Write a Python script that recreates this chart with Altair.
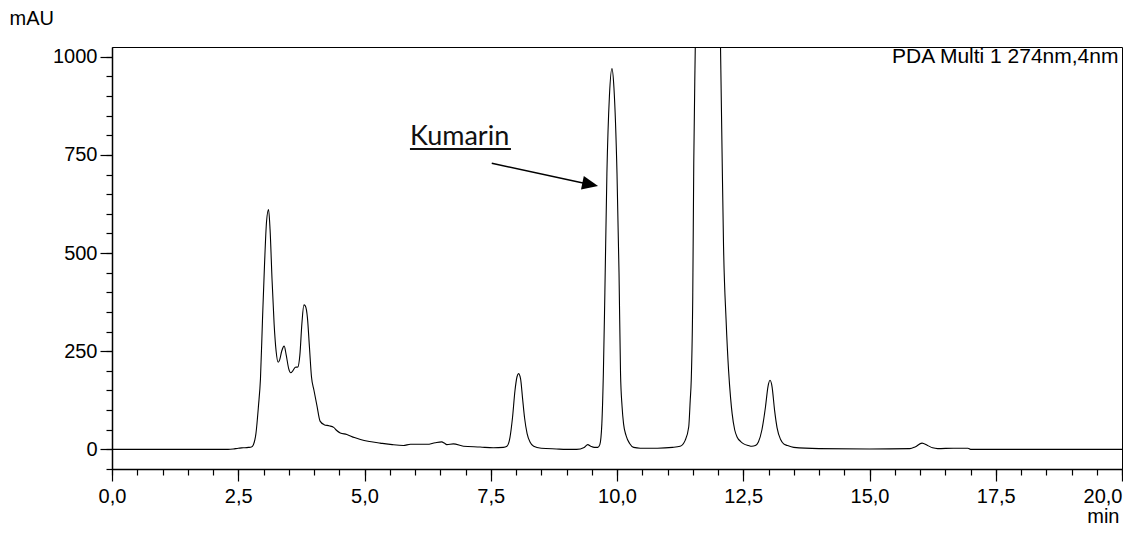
import altair as alt
import pandas as pd

# Chromatogram trace (retention time in min, absorbance in mAU)
time_min = [0.0, 2.3, 2.4, 2.5, 2.6, 2.7, 2.76, 2.80, 2.85, 2.90, 2.94, 2.98, 3.02, 3.06, 3.10,
            3.13, 3.17, 3.21, 3.25, 3.29, 3.32, 3.36, 3.41, 3.45, 3.50, 3.54, 3.58, 3.63, 3.68,
            3.72, 3.76, 3.80, 3.83, 3.87, 3.91, 3.95, 4.00, 4.06, 4.12, 4.20, 4.30, 4.39, 4.45,
            4.52, 4.65, 4.80, 4.92, 5.10, 5.31, 5.55, 5.77, 5.91, 6.10, 6.24, 6.40, 6.53, 6.58,
            6.63, 6.76, 6.96, 7.29, 7.55, 7.75, 7.82, 7.88, 7.93, 7.98, 8.02, 8.05, 8.09, 8.13,
            8.17, 8.22, 8.28, 8.35, 8.50, 8.80, 9.00, 9.20, 9.35, 9.42, 9.48, 9.55, 9.62, 9.66,
            9.70, 9.73, 9.76, 9.80, 9.85, 9.90, 9.94, 10.00, 10.04, 10.07, 10.10, 10.13, 10.18,
            10.25, 10.33, 10.46, 10.80, 11.10, 11.25, 11.35, 11.42, 11.45, 11.47, 11.50, 11.52,
            11.55, 11.60, 11.80, 12.00, 12.05, 12.08, 12.11, 12.16, 12.21, 12.25, 12.28, 12.33,
            12.38, 12.45, 12.51, 12.60, 12.67, 12.74, 12.80, 12.87, 12.94, 12.99, 13.03, 13.07,
            13.12, 13.17, 13.24, 13.30, 13.37, 13.50, 14.00, 15.00, 15.80, 15.90, 16.04, 16.15,
            16.25, 16.35, 16.66, 16.95, 17.00, 20.00]
signal_mau = [0, 0, 1, 3, 4, 5, 6, 12, 40, 110, 180, 330, 470, 580, 611,
              560, 430, 320, 250, 222, 228, 250, 263, 240, 205, 195, 200, 209, 210,
              240, 320, 368, 365, 335, 260, 185, 150, 110, 72, 63, 60, 56, 48,
              42, 38, 30, 25, 20, 16, 12, 10, 13, 13, 13, 17, 19, 16,
              12, 14, 8, 6, 4, 5, 8, 30, 80, 150, 185, 193, 180, 130,
              80, 40, 18, 8, 3, 1, 0, 0, 5, 12, 8, 5, 5, 12,
              65, 193, 400, 703, 900, 970, 920, 703, 450, 193, 110, 65, 35,
              15, 5, 3, 3, 5, 8, 23, 57, 125, 176, 388, 728,
              1024, 1500, 2200, 1500, 1024, 760, 516, 330, 200, 130, 91, 50,
              31, 20, 14, 10, 8, 10, 19, 50, 108, 160, 176, 160,
              100, 55, 25, 14, 10, 5, 2, 1, 2, 6, 16, 10,
              4, 2, 3, 3, 0, 0]

x_major = [0.0, 2.5, 5.0, 7.5, 10.0, 12.5, 15.0, 17.5, 20.0]
x_minor = [0.0, 0.5, 1.0, 1.5, 2.0, 2.5, 3.0, 3.5, 4.0, 4.5, 5.0, 5.5, 6.0, 6.5, 7.0, 7.5,
           8.0, 8.5, 9.0, 9.5, 10.0, 10.5, 11.0, 11.5, 12.0, 12.5, 13.0, 13.5, 14.0, 14.5,
           15.0, 15.5, 16.0, 16.5, 17.0, 17.5, 18.0, 18.5, 19.0, 19.5, 20.0]
y_major = [0, 250, 500, 750, 1000]
y_minor = [-50, 0, 50, 100, 150, 200, 250, 300, 350, 400, 450, 500, 550, 600, 650, 700,
           750, 800, 850, 900, 950, 1000]

# Annotations (data coordinates)
label_text = ["Kumarin"]
label_t = [5.90]
label_y = [775]
underline_t = [5.90]
underline_t2 = [7.90]
underline_y = [765]
arrow_t = [7.52]
arrow_t2 = [9.35]
arrow_y = [729]
arrow_y2 = [678]
head_t = [9.47]
head_y = [675]
detector_text = ["PDA Multi 1 274nm,4nm"]
detector_t = [19.93]
detector_y = [983]

FONT = "Liberation Sans"

df = pd.DataFrame({"t": time_min, "mAU": signal_mau})

xscale = alt.Scale(domain=[0, 20], nice=False, zero=False)
yscale = alt.Scale(domain=[-50, 1025], nice=False, zero=False)

xaxis = alt.Axis(
    values=x_major,
    orient="bottom",
    labelExpr="replace(format(datum.value, '.1f'), '.', ',')",
    tickSize=12,
    labelAlign={"condition": {"test": "datum.value >= 20", "value": "right"}, "value": "center"},
    labelPadding=5,
    labelOverlap=False,
    labelFlush=False,
    grid=False,
    title="min",
    titleX=1007,
    titleY=53,
    titleAlign="right",
    titleBaseline="alphabetic",
)
yaxis = alt.Axis(
    values=y_major,
    orient="left",
    format="d",
    tickSize=12,
    labelPadding=3,
    labelOverlap=False,
    grid=False,
    title="mAU",
    titleAngle=0,
    titleX=-103,
    titleY=-23,
    titleAlign="left",
    titleBaseline="alphabetic",
)
xaxis_minor = alt.Axis(values=x_minor, orient="bottom", labels=False, tickSize=6,
                       domain=False, grid=False, title=None)
yaxis_minor = alt.Axis(values=y_minor, orient="left", labels=False, tickSize=6,
                       domain=False, grid=False, title=None)

line = alt.Chart(df).mark_line(color="black", strokeWidth=1.1, clip=True, interpolate="monotone").encode(
    x=alt.X("t:Q", scale=xscale, axis=xaxis),
    y=alt.Y("mAU:Q", scale=yscale, axis=yaxis),
)

minor = alt.Chart(df).mark_line(opacity=0, clip=True).encode(
    x=alt.X("t:Q", scale=xscale, axis=xaxis_minor),
    y=alt.Y("mAU:Q", scale=yscale, axis=yaxis_minor),
)

kum = alt.Chart(pd.DataFrame({"t": label_t, "mAU": label_y, "txt": label_text})).mark_text(
    font="Lato", fontSize=27, align="left", baseline="alphabetic", color="#111111"
).encode(x=alt.X("t:Q", axis=None), y=alt.Y("mAU:Q", axis=None), text="txt:N")

underline = alt.Chart(pd.DataFrame({"t": underline_t, "t2": underline_t2, "mAU": underline_y})).mark_rule(
    color="#111111", strokeWidth=2
).encode(x=alt.X("t:Q", axis=None), x2="t2:Q", y=alt.Y("mAU:Q", axis=None))

arrow = alt.Chart(pd.DataFrame({"t": arrow_t, "t2": arrow_t2, "mAU": arrow_y, "y2": arrow_y2})).mark_rule(
    color="black", strokeWidth=1.5
).encode(x=alt.X("t:Q", axis=None), x2="t2:Q", y=alt.Y("mAU:Q", axis=None), y2="y2:Q")

head = alt.Chart(pd.DataFrame({"t": head_t, "mAU": head_y})).mark_point(
    shape="M-1,-0.85L1,0L-1,0.85Z", size=256, filled=True, color="black", opacity=1, angle=12
).encode(x=alt.X("t:Q", axis=None), y=alt.Y("mAU:Q", axis=None))

detector = alt.Chart(pd.DataFrame({"t": detector_t, "mAU": detector_y, "txt": detector_text})).mark_text(
    font=FONT, fontSize=21, align="right", baseline="alphabetic", color="black"
).encode(x=alt.X("t:Q", axis=None), y=alt.Y("mAU:Q", axis=None), text="txt:N")

chart = alt.layer(line, minor, kum, underline, arrow, head, detector).resolve_axis(
    x="independent", y="independent"
).properties(
    width=1010,
    height=422,
    autosize=alt.AutoSizeParams(type="none"),
    padding={"left": 104, "top": 39, "right": 1, "bottom": 56},
    background="white",
).configure_view(
    stroke="black", strokeWidth=1
).configure_axis(
    domainColor="black", domainWidth=1.5, tickColor="black", tickWidth=1.2,
    labelFont=FONT, labelFontSize=20, labelColor="black",
    titleFont=FONT, titleFontSize=20, titleFontWeight="normal", titleColor="black",
)

chart.save("out.html", embed_options={"renderer": "svg", "actions": False})
